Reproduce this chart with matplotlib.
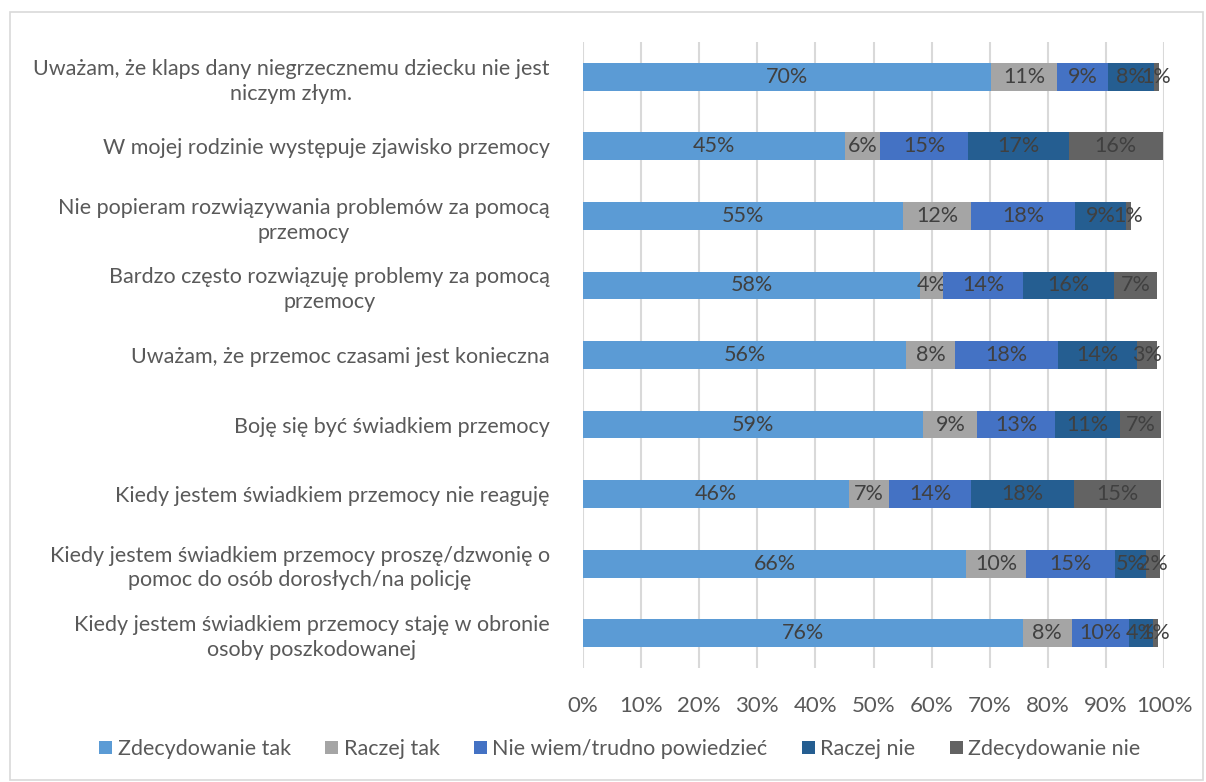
import numpy as np
import matplotlib
matplotlib.use("Agg")
from matplotlib import pyplot as plt
from matplotlib.patches import Rectangle

plt.rcParams['font.family'] = ['Lato', 'DejaVu Sans']

categories = [
    "Uważam, że klaps dany niegrzecznemu dziecku nie jest\nniczym złym.",
    "W mojej rodzinie występuje zjawisko przemocy",
    "Nie popieram rozwiązywania problemów za pomocą\nprzemocy",
    "Bardzo często rozwiązuję problemy za pomocą\nprzemocy",
    "Uważam, że przemoc czasami jest konieczna",
    "Boję się być świadkiem przemocy",
    "Kiedy jestem świadkiem przemocy nie reaguję",
    "Kiedy jestem świadkiem przemocy proszę/dzwonię o\npomoc do osób dorosłych/na policję",
    "Kiedy jestem świadkiem przemocy staję w obronie\nosoby poszkodowanej",
]
series_names = ["Zdecydowanie tak", "Raczej tak", "Nie wiem/trudno powiedzieć",
                "Raczej nie", "Zdecydowanie nie"]
zdecydowanie_tak = [70.2, 45.1, 55.1, 58.0, 55.6, 58.6, 45.8, 66.0, 75.7]
raczej_tak = [11.4, 6.0, 11.7, 4.0, 8.4, 9.3, 6.9, 10.2, 8.4]
nie_wiem = [8.8, 15.2, 17.9, 13.7, 17.8, 13.3, 14.1, 15.4, 9.8]
raczej_nie = [7.8, 17.3, 8.8, 15.7, 13.6, 11.2, 17.7, 5.3, 4.2]
zdecydowanie_nie = [1.0, 16.2, 0.8, 7.4, 3.4, 7.1, 15.0, 2.4, 0.8]
colors = ["#5B9BD5", "#A5A5A5", "#4472C4", "#255E91", "#636363"]

series = [zdecydowanie_tak, raczej_tak, nie_wiem, raczej_nie, zdecydowanie_nie]

fig = plt.figure(figsize=(12.06, 7.82), dpi=100)
ax = fig.add_axes([583 / 1206, 1 - 668 / 782, 581 / 1206, 626 / 782])

y = np.arange(len(categories))
left = np.zeros(len(categories))
for name, vals, c in zip(series_names, series, colors):
    vals = np.array(vals)
    bars = ax.barh(y, vals, left=left, height=0.4, color=c, label=name, zorder=3)
    ax.bar_label(bars, labels=[f"{v:.0f}%" for v in vals], label_type="center",
                 color="#404040", fontsize=15.5)
    left += vals

ax.set_ylim(len(categories) - 0.5, -0.5)
ax.set_xlim(0, 100)
ax.set_xticks(np.arange(0, 101, 10))
ax.set_xticklabels([f"{t}%" for t in range(0, 101, 10)])
ax.set_yticks(y)
ax.set_yticklabels(categories, ha="right", multialignment="center", linespacing=1.3)
ax.tick_params(axis="x", length=0, labelsize=16, labelcolor="#595959", pad=20)
ax.tick_params(axis="y", length=0, labelsize=15.5, labelcolor="#595959", pad=24)
ax.grid(axis="x", color="#D9D9D9", linewidth=1.5, zorder=0)
for s in ax.spines.values():
    s.set_visible(False)

handles, labels = ax.get_legend_handles_labels()
fig.legend(handles, labels, loc="center", bbox_to_anchor=(0.514, 1 - 749 / 782),
           ncol=5, frameon=False, fontsize=15.5, labelcolor="#595959",
           handlelength=0.6, handleheight=0.6, handletextpad=0.25, columnspacing=1.6)

fig.patches.append(Rectangle((10 / 1206, 2 / 782), 1193 / 1206, 768 / 782,
                             transform=fig.transFigure, fill=False,
                             edgecolor="#D9D9D9", linewidth=1.2))

fig.savefig("out.png", dpi=100)
